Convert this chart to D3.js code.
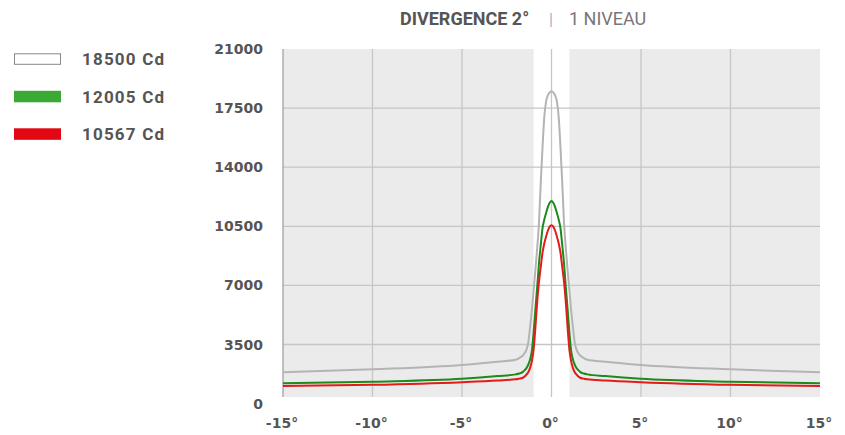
<!DOCTYPE html>
<html><head><meta charset="utf-8">
<script src="https://cdn.jsdelivr.net/npm/d3@7"></script>
<style>
html,body{margin:0;padding:0;background:#fff;}
svg{display:block;}
</style></head>
<body>
<svg id="chart" width="845" height="435"></svg>
<script>
const angles = [-15,-10,-5,-3,-2,-1.8,-1.6,-1.5,-1.4,-1.3,-1.2,-1.1,-1,-0.9,-0.8,-0.7,-0.6,-0.5,-0.4,-0.3,-0.2,-0.1,0,
                0.1,0.2,0.3,0.4,0.5,0.6,0.7,0.8,0.9,1,1.1,1.2,1.3,1.4,1.5,1.6,1.8,2,3,5,10,15];
const serie18500 = [1850,2030,2290,2480,2600,2700,2850,2980,3200,3600,4500,5500,6700,7900,9200,10700,13100,15200,17000,17900,18250,18430,18500,
                    18430,18250,17900,17000,15200,13100,10700,9200,7900,6700,5500,4500,3600,3200,2980,2850,2700,2600,2480,2290,2030,1850];
const serie12005 = [1200,1300,1470,1630,1730,1780,1880,1980,2100,2300,2600,3100,4200,5600,6900,8300,9400,10400,10900,11300,11650,11900,12005,
                    11900,11650,11300,10900,10400,9400,8300,6900,5600,4200,3100,2600,2300,2100,1980,1880,1780,1730,1630,1470,1300,1200];
const serie10567 = [1040,1110,1270,1370,1440,1480,1530,1600,1720,1850,2100,2500,3200,4500,6000,7200,8100,8950,9500,9900,10250,10480,10567,
                    10480,10250,9900,9500,8950,8100,7200,6000,4500,3200,2500,2100,1850,1720,1600,1530,1480,1440,1370,1270,1110,1040];
const legendLabels = ["18500 Cd","12005 Cd","10567 Cd"];
const yTicks = [0,3500,7000,10500,14000,17500,21000];
const xTicks = [-15,-10,-5,0,5,10,15];

const svg = d3.select("#chart");
const x = d3.scaleLinear().domain([-15,15]).range([283,820]);
const y = d3.scaleLinear().domain([0,21000]).range([403.6,49]);
const plotBottom = 397;

// background
svg.append("rect").attr("x",x(-15)).attr("y",y(21000)).attr("width",x(15)-x(-15)).attr("height",plotBottom-y(21000)).attr("fill","#ebebeb");
svg.append("rect").attr("x",x(-1)).attr("y",y(21000)).attr("width",x(1)-x(-1)).attr("height",plotBottom-y(21000)).attr("fill","#ffffff");

// grid
const g = svg.append("g");
g.selectAll("line.h").data(yTicks.filter(d=>d>0&&d<21000)).enter().append("line")
  .attr("x1",x(-15)).attr("x2",x(15)).attr("y1",d=>y(d)).attr("y2",d=>y(d))
  .attr("stroke","#c6c6c6").attr("stroke-width",1.3);
g.selectAll("line.v").data(xTicks.filter(d=>d>-15&&d<15)).enter().append("line")
  .attr("x1",d=>x(d)).attr("x2",d=>x(d)).attr("y1",y(21000)).attr("y2",plotBottom)
  .attr("stroke","#c6c6c6").attr("stroke-width",1.3);
svg.append("line").attr("x1",x(-15)).attr("x2",x(-15)).attr("y1",y(21000)).attr("y2",plotBottom)
  .attr("stroke","#9a9a9a").attr("stroke-width",1.2);

// y labels
svg.selectAll("text.yl").data(yTicks).enter().append("text")
  .attr("x",263).attr("y",d=>y(d)).attr("dy","0.36em").attr("text-anchor","end")
  .attr("font-family","DejaVu Sans").attr("font-weight","bold").attr("font-size",14)
  .attr("fill","#555").text(d=>d);
// x labels
svg.selectAll("text.xl").data(xTicks).enter().append("text")
  .attr("x",d=>x(d)-1).attr("y",423).attr("dy","0.36em").attr("text-anchor","middle")
  .attr("font-family","DejaVu Sans").attr("font-weight","bold").attr("font-size",14)
  .attr("fill","#555").text(d=>d+"°");

// lines
const line = d3.line().x((d,i)=>x(angles[i])).y(d=>y(d)).curve(d3.curveMonotoneX);
const series = [
  {vals:serie18500, color:"#b4b4b4"},
  {vals:serie12005, color:"#1d8a1d"},
  {vals:serie10567, color:"#e31b1b"}
];
series.forEach(s=>{
  svg.append("path").attr("d",line(s.vals)).attr("fill","none").attr("stroke",s.color).attr("stroke-width",2);
});

// legend
const legColors = [{fill:"#ffffff",stroke:"#888"},{fill:"#3aaa35",stroke:"none"},{fill:"#e30613",stroke:"none"}];
legendLabels.forEach((t,i)=>{
  const cy = 59 + i*37.5;
  svg.append("rect").attr("x",legColors[i].stroke==="none"?14:14.5).attr("y",legColors[i].stroke==="none"?cy-5.7:cy-5.2)
    .attr("width",legColors[i].stroke==="none"?47:46).attr("height",legColors[i].stroke==="none"?11.5:10.5)
    .attr("fill",legColors[i].fill).attr("stroke",legColors[i].stroke).attr("stroke-width",1);
  svg.append("text").attr("x",82).attr("y",cy).attr("dy","0.36em")
    .attr("font-family","Roboto").attr("font-weight",700).attr("font-size",17).attr("letter-spacing",1.2)
    .attr("fill","#555").text(t);
});

// title
svg.append("text").attr("x",400).attr("y",19).attr("dy","0.36em").attr("font-family","Roboto").attr("font-size",18)
  .attr("font-weight",700).attr("fill","#555").text("DIVERGENCE 2°");
svg.append("text").attr("x",551).attr("y",19).attr("dy","0.36em").attr("text-anchor","middle")
  .attr("font-family","Roboto").attr("font-size",16).attr("fill","#9fb0c4").text("|");
svg.append("text").attr("x",569).attr("y",19).attr("dy","0.36em").attr("font-family","Roboto").attr("font-size",18)
  .attr("fill","#777").text("1 NIVEAU");
</script>
</body></html>
